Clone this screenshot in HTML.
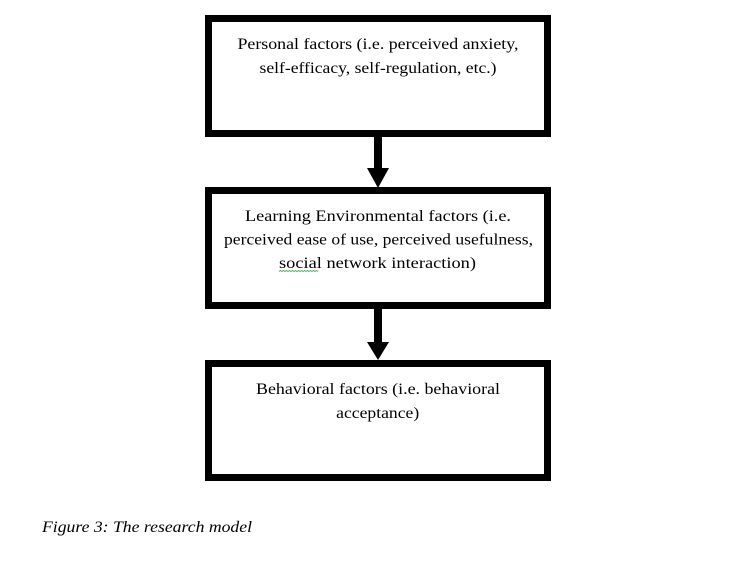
<!DOCTYPE html>
<html>
<head>
<meta charset="utf-8">
<style>
  html, body { margin: 0; padding: 0; background: #ffffff; }
  body { width: 746px; height: 575px; overflow: hidden; }
  svg { display: block; }
  text { font-family: "Liberation Serif", serif; font-size: 16px; fill: #000; }
</style>
</head>
<body>
<svg width="746" height="575" viewBox="0 0 746 575" xmlns="http://www.w3.org/2000/svg">
  <rect x="0" y="0" width="746" height="575" fill="#ffffff"/>

  <!-- Box 1 -->
  <rect x="208.5" y="18.5" width="339" height="115" fill="#fff" stroke="#000" stroke-width="7"/>
  <text x="378" y="49" text-anchor="middle" textLength="281" lengthAdjust="spacingAndGlyphs">Personal factors (i.e. perceived anxiety,</text>
  <text x="378" y="73" text-anchor="middle" textLength="237" lengthAdjust="spacingAndGlyphs">self-efficacy, self-regulation, etc.)</text>

  <!-- Arrow 1 -->
  <rect x="374" y="136" width="8" height="33" fill="#000"/>
  <polygon points="367,168 389,168 378,188" fill="#000"/>

  <!-- Box 2 -->
  <rect x="208.5" y="190.5" width="339" height="115" fill="#fff" stroke="#000" stroke-width="7"/>
  <text x="378" y="221" text-anchor="middle" textLength="266" lengthAdjust="spacingAndGlyphs">Learning Environmental factors (i.e.</text>
  <text x="378.5" y="244.5" text-anchor="middle" textLength="309" lengthAdjust="spacingAndGlyphs">perceived ease of use, perceived usefulness,</text>
  <text x="377.5" y="268" text-anchor="middle" textLength="197" lengthAdjust="spacingAndGlyphs">social network interaction)</text>
  <!-- spell-check wavy underline under "social" -->
  <path d="M279,271.5 l1.5,-1 l1.5,1 l1.5,-1 l1.5,1 l1.5,-1 l1.5,1 l1.5,-1 l1.5,1 l1.5,-1 l1.5,1 l1.5,-1 l1.5,1 l1.5,-1 l1.5,1 l1.5,-1 l1.5,1 l1.5,-1 l1.5,1 l1.5,-1 l1.5,1 l1.5,-1 l1.5,1 l1.5,-1 l1.5,1 l1.5,-1 l1.5,1" fill="none" stroke="#3aa64a" stroke-width="0.8"/>

  <!-- Arrow 2 -->
  <rect x="374" y="308" width="8" height="35" fill="#000"/>
  <polygon points="367,342 389,342 378,360" fill="#000"/>

  <!-- Box 3 -->
  <rect x="208.5" y="363.5" width="339" height="114" fill="#fff" stroke="#000" stroke-width="7"/>
  <text x="378" y="394" text-anchor="middle" textLength="244" lengthAdjust="spacingAndGlyphs">Behavioral factors (i.e. behavioral</text>
  <text x="377.7" y="418" text-anchor="middle" textLength="83" lengthAdjust="spacingAndGlyphs">acceptance)</text>

  <!-- Caption -->
  <text x="42" y="532" font-style="italic" textLength="210" lengthAdjust="spacingAndGlyphs">Figure 3: The research model</text>
</svg>
</body>
</html>
